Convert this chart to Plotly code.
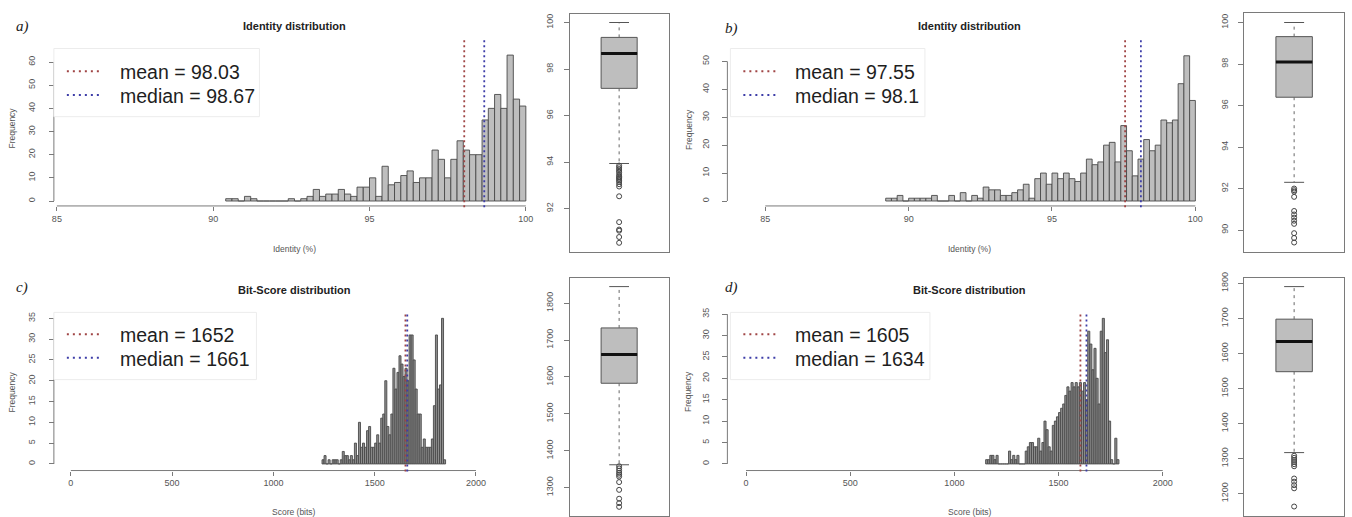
import plotly.graph_objects as go

W, H = 1352, 517

# ---------------- data ----------------
identity_bin_width = 0.2
identity_a_first_bin = 90.4
identity_a_counts = [1, 1, 0, 2, 1, 0, 0, 0, 0, 0,
                     1, 0, 1, 2, 5, 2, 3, 3, 5, 3,
                     2, 6, 6, 10, 2, 15, 7, 8, 11, 13,
                     8, 10, 10, 22, 18, 10, 18, 26, 22, 20,
                     20, 35, 40, 46, 40, 63, 44, 41]
identity_b_first_bin = 89.2
identity_b_counts = [1, 1, 2, 0, 1, 1, 1, 1, 2, 0,
                     0, 2, 0, 3, 0, 2, 1, 5, 4, 4,
                     2, 2, 3, 4, 6, 1, 8, 10, 6, 10,
                     8, 10, 8, 7, 10, 15, 13, 14, 20, 21,
                     14, 27, 18, 9, 15, 22, 18, 20, 29, 28,
                     29, 42, 52, 36]
score_bin_width = 10
score_c_first_bin = 1240
score_c_counts = [1, 2, 0, 1, 0, 1, 1, 1, 0, 1,
                  3, 2, 2, 1, 2, 1, 5, 2, 10, 4,
                  5, 4, 8, 9, 4, 4, 5, 7, 5, 11,
                  12, 20, 9, 7, 12, 23, 18, 22, 26, 24,
                  21, 23, 20, 31, 31, 25, 18, 12, 12, 4,
                  6, 4, 4, 4, 6, 14, 31, 18, 19, 35, 1]
score_d_first_bin = 1150
score_d_counts = [1, 1, 2, 2, 1, 2, 0, 0, 0, 0,
                  0, 3, 1, 2, 1, 2, 0, 0, 0, 3,
                  4, 5, 5, 4, 4, 6, 3, 5, 10, 8,
                  4, 3, 9, 10, 11, 12, 13, 14, 16, 18,
                  17, 19, 18, 19, 18, 19, 17, 19, 15, 31,
                  28, 22, 27, 20, 14, 31, 34, 26, 29, 10,
                  1, 0, 6, 1]

means = {"a": 98.03, "b": 97.55, "c": 1652, "d": 1605}
medians = {"a": 98.67, "b": 98.1, "c": 1661, "d": 1634}

identity_xticks = [85, 90, 95, 100]
score_xticks = [0, 500, 1000, 1500, 2000]
hist_a_yticks = [0, 10, 20, 30, 40, 50, 60]
hist_b_yticks = [0, 10, 20, 30, 40, 50]
hist_cd_yticks = [0, 5, 10, 15, 20, 25, 30, 35]

box_stats = {
    "a": dict(lo=93.94, q1=97.17, med=98.67, q3=99.36, hi=100.0),
    "b": dict(lo=92.3, q1=96.4, med=98.1, q3=99.32, hi=100.0),
    "c": dict(lo=1362, q1=1583, med=1661, q3=1733, hi=1845),
    "d": dict(lo=1317, q1=1548, med=1634, q3=1698, hi=1791),
}
box_outliers = {
    "a": [93.85, 93.78, 93.7, 93.62, 93.55, 93.45, 93.38, 93.33, 93.28, 93.22,
          93.15, 93.05, 92.95, 92.53, 91.42, 91.1, 91.05, 90.78, 90.53],
    "b": [92.0, 91.92, 91.85, 91.6, 90.92, 90.75, 90.6, 90.45, 90.3, 89.85,
          89.62, 89.4],
    "c": [1358, 1352, 1346, 1340, 1335, 1330, 1315, 1294, 1270, 1258, 1248],
    "d": [1308, 1302, 1296, 1290, 1284, 1278, 1243, 1234, 1224, 1215, 1163],
}
box_a_yticks = [92, 94, 96, 98, 100]
box_b_yticks = [90, 92, 94, 96, 98, 100]
box_c_yticks = [1300, 1400, 1500, 1600, 1700, 1800]
box_d_yticks = [1200, 1300, 1400, 1500, 1600, 1700, 1800]

# ---------------- style ----------------
FONT = "Liberation Sans, Arial, sans-serif"
SERIF = "Liberation Serif, Times New Roman, serif"
TICKC = "#555555"
AXC = "#7a7a7a"
BARFILL = "#bebebe"
BARLINE = "#4a4a4a"
MEANC = "#a04545"
MEDC = "#3d3da8"


def px_x(p):
    return p / W


def px_y(p):
    return 1 - p / H


def inv(d0, p0, d1, p1):
    s = (p1 - p0) / (d1 - d0)
    return lambda p: d0 + (p - p0) / s


hist_panels = [
    dict(key="a", counts=identity_a_counts, first=identity_a_first_bin, bw=identity_bin_width,
         xticks=identity_xticks, yticks=hist_a_yticks, fill=BARFILL,
         xmap=(85, 55, 100, 525), ymap=(0, 197.3, 60, 56.7), xdom=(52, 532), ydom=(33, 203.5),
         xline=202.3, yline=52, title="Identity distribution", xlabel="Identity (%)", tag="a)",
         tagpos=(12, 21), titlepos=(293, 20), ylabpos=(10, 123), xlabpos=(293, 246),
         legbox=(52, 258, 43, 112), legline=(65, 100), legy=(66, 90), legtx=116, fmt="{:.2f}"),
    dict(key="b", counts=identity_b_counts, first=identity_b_first_bin, bw=identity_bin_width,
         xticks=identity_xticks, yticks=hist_b_yticks, fill=BARFILL,
         xmap=(85, 765, 100, 1196), ymap=(0, 197.3, 50, 56), xdom=(727, 1206), ydom=(33, 203.5),
         xline=202.3, yline=727, title="Identity distribution", xlabel="Identity (%)", tag="b)",
         tagpos=(723, 23), titlepos=(970, 20), ylabpos=(688, 125), xlabpos=(970, 246),
         legbox=(730, 925, 43, 112), legline=(743, 777), legy=(66, 90), legtx=793, fmt="{:g}"),
    dict(key="c", counts=score_c_counts, first=score_c_first_bin, bw=score_bin_width,
         xticks=score_xticks, yticks=hist_cd_yticks, fill="#8e8e8e",
         xmap=(0, 69, 2000, 475), ymap=(0, 463.3, 35, 316), xdom=(52, 490), ydom=(310, 471),
         xline=470, yline=52, title="Bit-Score distribution", xlabel="Score (bits)", tag="c)",
         tagpos=(12, 285), titlepos=(293, 287), ylabpos=(10, 390), xlabpos=(293, 512),
         legbox=(52, 255, 310, 378), legline=(65, 100), legy=(332, 356), legtx=116, fmt="{:g}"),
    dict(key="d", counts=score_d_counts, first=score_d_first_bin, bw=score_bin_width,
         xticks=score_xticks, yticks=hist_cd_yticks, fill="#8e8e8e",
         xmap=(0, 745.7, 2000, 1163.3), ymap=(0, 463.3, 35, 311.7), xdom=(727, 1180), ydom=(310, 471),
         xline=470, yline=727, title="Bit-Score distribution", xlabel="Score (bits)", tag="d)",
         tagpos=(723, 285), titlepos=(970, 287), ylabpos=(688, 390), xlabpos=(970, 512),
         legbox=(730, 930, 310, 378), legline=(743, 777), legy=(332, 356), legtx=793, fmt="{:g}"),
]

box_panels = [
    dict(key="a", frame=(569, 668, 8, 249), ymap=(100, 16.7, 92, 205), yticks=box_a_yticks),
    dict(key="b", frame=(1245, 1345, 7.3, 249.3), ymap=(100, 16.7, 90, 226.7), yticks=box_b_yticks),
    dict(key="c", frame=(569, 668, 275, 516), ymap=(1800, 300.7, 1300, 487.3), yticks=box_c_yticks),
    dict(key="d", frame=(1245, 1345, 275, 516), ymap=(1800, 280.7, 1200, 493.3), yticks=box_d_yticks),
]

fig = go.Figure()
layout = {}
shapes = []
annotations = []
axis_n = 0

tickfont = dict(family=FONT, size=9, color=TICKC)

for p in hist_panels:
    axis_n += 1
    xa = "x" if axis_n == 1 else f"x{axis_n}"
    ya = "y" if axis_n == 1 else f"y{axis_n}"
    xk = "xaxis" if axis_n == 1 else f"xaxis{axis_n}"
    yk = "yaxis" if axis_n == 1 else f"yaxis{axis_n}"
    fx = inv(*p["xmap"])
    fy = inv(*p["ymap"])
    centers = [p["first"] + p["bw"] * (i + 0.5) for i in range(len(p["counts"]))]
    fig.add_trace(go.Bar(x=centers, y=p["counts"], width=p["bw"], xaxis=xa, yaxis=ya,
                         marker=dict(color=p["fill"], line=dict(color=BARLINE, width=0.9)),
                         showlegend=False, hoverinfo="x+y"))
    layout[xk] = dict(domain=[px_x(p["xdom"][0]), px_x(p["xdom"][1])],
                      range=[fx(p["xdom"][0]), fx(p["xdom"][1])],
                      anchor="free", position=px_y(p["xline"]),
                      showline=False, showgrid=False, zeroline=False,
                      ticks="outside", ticklen=4, tickcolor=AXC, tickwidth=1,
                      tickvals=p["xticks"], ticktext=[str(v) for v in p["xticks"]],
                      tickfont=tickfont, ticklabelstandoff=0)
    layout[yk] = dict(domain=[px_y(p["ydom"][1]), px_y(p["ydom"][0])],
                      range=[fy(p["ydom"][1]), fy(p["ydom"][0])],
                      anchor="free", position=px_x(p["yline"]),
                      showline=False, showgrid=False, zeroline=False,
                      ticks="outside", ticklen=5, tickcolor=AXC, tickwidth=1,
                      tickvals=p["yticks"], ticktext=[str(v) for v in p["yticks"]],
                      tickangle=-90, tickfont=tickfont, ticklabelstandoff=10)
    # R-style axis lines spanning first to last tick
    shapes.append(dict(type="line", xref=xa, yref="paper", x0=p["xticks"][0], x1=p["xticks"][-1],
                       y0=px_y(p["xline"]), y1=px_y(p["xline"]), line=dict(color=AXC, width=1)))
    shapes.append(dict(type="line", xref="paper", yref=ya, x0=px_x(p["yline"]), x1=px_x(p["yline"]),
                       y0=p["yticks"][0], y1=p["yticks"][-1], line=dict(color=AXC, width=1)))
    # mean / median lines
    for val, col in ((means[p["key"]], MEANC), (medians[p["key"]], MEDC)):
        shapes.append(dict(type="line", xref=xa, yref="paper", x0=val, x1=val,
                           y0=px_y(p["ydom"][1]), y1=px_y(p["ydom"][0]),
                           line=dict(color=col, width=1.8, dash="2px,3px")))
    # legend box
    lb = p["legbox"]
    shapes.append(dict(type="rect", xref="paper", yref="paper", x0=px_x(lb[0]), x1=px_x(lb[1]),
                       y0=px_y(lb[3]), y1=px_y(lb[2]), fillcolor="white",
                       line=dict(color="#ececec", width=1)))
    for yy, col, txt in ((p["legy"][0], MEANC, "mean = " + p["fmt"].format(means[p["key"]])),
                         (p["legy"][1], MEDC, "median = " + p["fmt"].format(medians[p["key"]]))):
        shapes.append(dict(type="line", xref="paper", yref="paper",
                           x0=px_x(p["legline"][0]), x1=px_x(p["legline"][1]),
                           y0=px_y(yy), y1=px_y(yy), line=dict(color=col, width=2, dash="2px,4px")))
        annotations.append(dict(xref="paper", yref="paper", x=px_x(p["legtx"]), y=px_y(yy + 1),
                                text=txt, showarrow=False, xanchor="left", yanchor="middle",
                                font=dict(family=FONT, size=19.5, color="#1e1e1e")))
    # titles & labels
    annotations.append(dict(xref="paper", yref="paper", x=px_x(p["titlepos"][0]), y=px_y(p["titlepos"][1]),
                            text="<b>" + p["title"] + "</b>", showarrow=False, xanchor="center",
                            yanchor="middle", font=dict(family=FONT, size=11, color="#222222")))
    annotations.append(dict(xref="paper", yref="paper", x=px_x(p["tagpos"][0]), y=px_y(p["tagpos"][1]),
                            text="<i>" + p["tag"] + "</i>", showarrow=False, xanchor="left",
                            yanchor="middle", font=dict(family=SERIF, size=15, color="#222222")))
    annotations.append(dict(xref="paper", yref="paper", x=px_x(p["xlabpos"][0]), y=px_y(p["xlabpos"][1]),
                            text=p["xlabel"], showarrow=False, xanchor="center", yanchor="middle",
                            font=dict(family=FONT, size=8.5, color=TICKC)))
    annotations.append(dict(xref="paper", yref="paper", x=px_x(p["ylabpos"][0]), y=px_y(p["ylabpos"][1]),
                            text="Frequency", showarrow=False, xanchor="center", yanchor="middle",
                            textangle=-90, font=dict(family=FONT, size=8.5, color=TICKC)))

box_pos = 0.5
box_width = 0.365
cap_half = 0.1
for p in box_panels:
    axis_n += 1
    xa, ya = f"x{axis_n}", f"y{axis_n}"
    xk, yk = f"xaxis{axis_n}", f"yaxis{axis_n}"
    fy = inv(*p["ymap"])
    fr = p["frame"]
    st = box_stats[p["key"]]
    fig.add_trace(go.Box(x=[box_pos], q1=[st["q1"]], median=[st["med"]], q3=[st["q3"]],
                         lowerfence=[st["q1"]], upperfence=[st["q3"]], width=box_width,
                         fillcolor=BARFILL, line=dict(color="#555555", width=1),
                         xaxis=xa, yaxis=ya, showlegend=False, boxpoints=False, whiskerwidth=0))
    fig.add_trace(go.Scatter(x=[box_pos, box_pos, None, box_pos, box_pos],
                             y=[st["q3"], st["hi"], None, st["q1"], st["lo"]],
                             mode="lines", line=dict(color="#666666", width=1, dash="3px,4px"),
                             xaxis=xa, yaxis=ya, showlegend=False, hoverinfo="skip"))
    fig.add_trace(go.Scatter(x=[box_pos - cap_half, box_pos + cap_half, None,
                                box_pos - cap_half, box_pos + cap_half],
                             y=[st["hi"], st["hi"], None, st["lo"], st["lo"]],
                             mode="lines", line=dict(color="#555555", width=1),
                             xaxis=xa, yaxis=ya, showlegend=False, hoverinfo="skip"))
    fig.add_trace(go.Scatter(x=[box_pos - box_width / 2, box_pos + box_width / 2],
                             y=[st["med"], st["med"]], mode="lines",
                             line=dict(color="#111111", width=3),
                             xaxis=xa, yaxis=ya, showlegend=False, hoverinfo="skip"))
    fig.add_trace(go.Scatter(x=[box_pos] * len(box_outliers[p["key"]]), y=box_outliers[p["key"]],
                             mode="markers", marker=dict(symbol="circle-open", size=5,
                                                          color="#444444", line=dict(width=1)),
                             xaxis=xa, yaxis=ya, showlegend=False))
    layout[xk] = dict(domain=[px_x(fr[0]), px_x(fr[1])], range=[0, 1], anchor=ya,
                      showline=True, mirror=True, linecolor=AXC, linewidth=1,
                      showticklabels=False, ticks="", showgrid=False, zeroline=False)
    layout[yk] = dict(domain=[px_y(fr[3]), px_y(fr[2])], range=[fy(fr[3]), fy(fr[2])], anchor=xa,
                      showline=True, mirror=True, linecolor=AXC, linewidth=1,
                      ticks="outside", ticklen=5, tickcolor=AXC,
                      tickvals=p["yticks"], ticktext=[str(v) for v in p["yticks"]],
                      tickangle=-90, tickfont=tickfont, ticklabelstandoff=7,
                      showgrid=False, zeroline=False)

fig.update_layout(width=W, height=H, margin=dict(l=0, r=0, t=0, b=0),
                  paper_bgcolor="white", plot_bgcolor="white",
                  shapes=shapes, annotations=annotations, showlegend=False, **layout)
fig.write_html("out.html")
